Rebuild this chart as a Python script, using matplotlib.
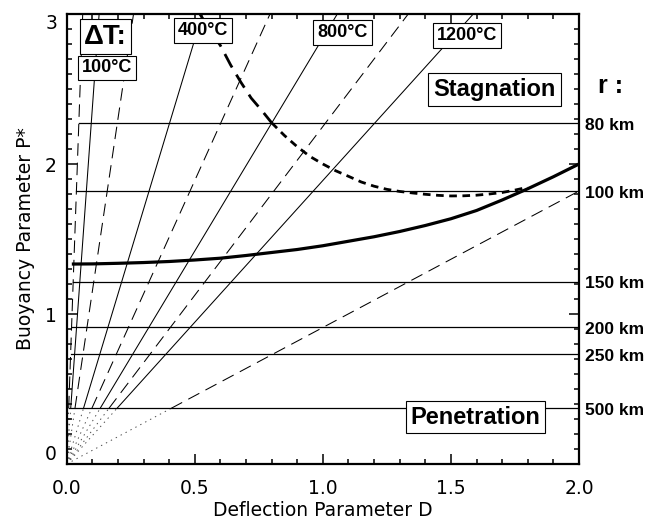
import numpy as np
import matplotlib
matplotlib.use('Agg')
import matplotlib.pyplot as plt
from matplotlib.ticker import MultipleLocator, FixedLocator, FixedFormatter

plt.rcParams['lines.scale_dashes'] = False

# --- data ---
# radial lines P = slope * D (temperature contrast lines)
dT_slopes = [48.0, 23.7, 11.5, 5.66, 3.78, 2.84, 2.25, 1.89, 0.91]
dT_solid = [False, True, False, True, False, True, False, True, False]
dT_label_text = ['100°C', '400°C', '800°C', '1200°C']
dT_label_D = [0.157, 0.533, 1.077, 1.564]
dT_label_P = [2.64, 2.887, 2.875, 2.857]

# horizontal lines of constant radius r
r_labels = ['80 km', '100 km', '150 km', '200 km', '250 km', '500 km']
r_P = [2.275, 1.82, 1.215, 0.915, 0.733, 0.371]

# critical (thick solid) curve
crit_D = [0.02, 0.1, 0.2, 0.3, 0.4, 0.5, 0.6, 0.7, 0.8, 0.9, 1.0, 1.1, 1.2,
          1.3, 1.4, 1.5, 1.6, 1.7, 1.8, 1.9, 2.0]
crit_P = [1.333, 1.334, 1.338, 1.343, 1.350, 1.360, 1.372, 1.390, 1.410,
          1.430, 1.455, 1.485, 1.515, 1.550, 1.590, 1.635, 1.690, 1.760,
          1.835, 1.915, 2.0]

# thick dashed curve (upper and lower parts)
stag1_D = [0.52, 0.56, 0.60, 0.64, 0.68, 0.72, 0.76, 0.80]
stag1_P = [3.0, 2.89, 2.79, 2.66, 2.545, 2.44, 2.36, 2.275]
stag2_D = [0.80, 0.85, 0.90, 0.95, 1.0, 1.05, 1.1, 1.15, 1.2, 1.25, 1.3,
           1.35, 1.4, 1.45, 1.5, 1.55, 1.6, 1.65, 1.7, 1.75, 1.8]
stag2_P = [2.275, 2.19, 2.115, 2.05, 2.0, 1.955, 1.918, 1.88, 1.852, 1.831,
           1.817, 1.807, 1.798, 1.791, 1.787, 1.788, 1.792, 1.80, 1.81,
           1.826, 1.845]

x_ticks = [0.0, 0.5, 1.0, 1.5, 2.0]
x_ticklabels = ['0.0', '0.5', '1.0', '1.5', '2.0']
y_ticks = [0, 1, 2, 3]
y_ticklabels = ['0', '1', '2', '3']

# --- figure ---
fig = plt.figure(figsize=(6.48, 5.21), dpi=100)
ax = fig.add_axes([66.7/648, 1-464/521, (579-66.7)/648, (464-14)/521])
ax.set_xlim(0, 2)
ax.set_ylim(0, 3)

P_start = min(r_P)
Dmax, Pmax = 2.0, 3.0
for s, solid in zip(dT_slopes, dT_solid):
    d0 = P_start / s
    d1 = min(Dmax, Pmax / s)
    ls = '-' if solid else (0, (9, 5))
    ax.plot([d0, d1], [s*d0, s*d1], color='black', lw=0.75, linestyle=ls,
            zorder=2)
    # dotted extension to origin
    ax.plot([0, d0], [0, s*d0], color='0.3', lw=0.7, linestyle=(0, (1, 3)),
            zorder=1)

# horizontal r lines, starting at leftmost radial line
for P in r_P:
    ax.plot([P/dT_slopes[0], Dmax], [P, P], color='black', lw=0.9, zorder=2)

ax.plot(crit_D, crit_P, color='black', lw=2.3, zorder=3, solid_capstyle='butt')
ax.plot(stag1_D, stag1_P, color='black', lw=2.0, linestyle=(0, (11, 6)), zorder=3)
ax.plot(stag2_D, stag2_P, color='black', lw=2.0, linestyle=(0, (5.5, 4)), zorder=3)

box = dict(boxstyle='square,pad=0.22', fc='white', ec='black', lw=0.8)
ax.text(0.152, 2.85, 'ΔT:', fontsize=20, fontweight='bold', family='Liberation Sans',
        ha='center', va='center',
        bbox=dict(boxstyle='square,pad=0.15', fc='white', ec='black', lw=0.8), zorder=5)
for t, d, p in zip(dT_label_text, dT_label_D, dT_label_P):
    ax.text(d, p, t, fontsize=13, fontweight='bold', family='Liberation Sans',
            ha='center', va='center', bbox=box, zorder=5)
ax.text(1.671, 2.497, 'Stagnation', fontsize=17, fontweight='bold',
        family='Liberation Sans', ha='center', va='center',
        bbox=dict(boxstyle='square,pad=0.22', fc='white', ec='black', lw=0.8), zorder=5)
ax.text(1.595, 0.313, 'Penetration', fontsize=17, fontweight='bold',
        family='Liberation Sans', ha='center', va='center',
        bbox=dict(boxstyle='square,pad=0.2', fc='white', ec='black', lw=0.8), zorder=5)

# right-side r labels
for lab, P in zip(r_labels, r_P):
    ax.text(2.0 + 6/256, P - 0.015, lab, fontsize=12.5, fontweight='bold',
            family='Liberation Sans', ha='left', va='center', clip_on=False)
fig.text(611/648, 1-86/521, 'r :', fontsize=18, fontweight='bold',
         family='Liberation Sans', ha='center', va='center')

# ticks
ax.xaxis.set_major_locator(FixedLocator(x_ticks))
ax.xaxis.set_major_formatter(FixedFormatter(x_ticklabels))
ax.yaxis.set_major_locator(FixedLocator(y_ticks))
ax.yaxis.set_major_formatter(FixedFormatter(y_ticklabels))
ax.xaxis.set_minor_locator(MultipleLocator(0.1))
ax.yaxis.set_minor_locator(MultipleLocator(0.1))
ax.tick_params(which='both', direction='in', top=True, right=True, width=1.1,
               labelsize=13.5, colors='black')
ax.tick_params(which='major', length=7)
ax.tick_params(which='minor', length=3.5)
ax.tick_params(axis='x', which='major', pad=11)
ax.tick_params(axis='y', which='major', pad=7)
for sp in ax.spines.values():
    sp.set_linewidth(1.6)

ylabs = ax.get_yticklabels()
ylabs[0].set_va('bottom')
ylabs[-1].set_va('top')

ax.set_xlabel('Deflection Parameter D', fontsize=13.5, labelpad=2)
ax.set_ylabel('Buoyancy Parameter P*', fontsize=13.5, labelpad=7)

fig.savefig('out.png', dpi=100)
